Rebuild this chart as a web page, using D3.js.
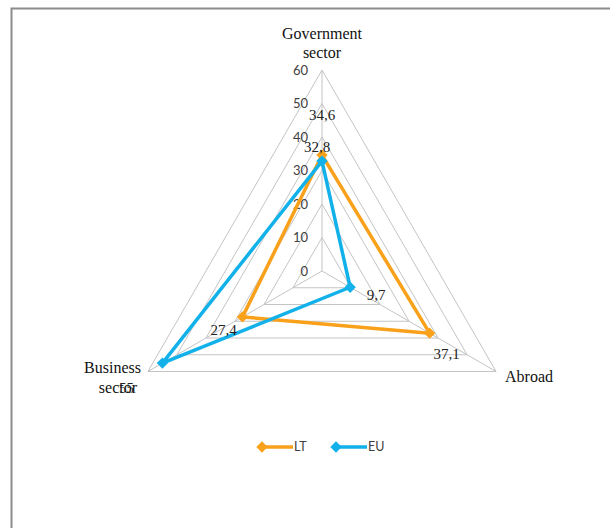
<!DOCTYPE html>
<html><head><meta charset="utf-8">
<script src="https://cdn.jsdelivr.net/npm/d3@7"></script>
<style>body{margin:0;background:#fff}svg{display:block}</style>
</head><body>
<svg id="c" width="610" height="528"></svg>
<script>
const categories = ["Government sector", "Abroad", "Business sector"];
const seriesNames = ["LT", "EU"];
const ltValues = [34.6, 37.1, 27.4];
const euValues = [32.8, 9.7, 55];
const ltLabels = ["34,6", "37,1", "27,4"];
const euLabels = ["32,8", "9,7", "55"];
const tickValues = [0, 10, 20, 30, 40, 50, 60];

const svg = d3.select("#c");
const cx = 322, cy = 271;
const r = d3.scaleLinear().domain([0, 60]).range([0, 201]);
const ang = i => (-90 + i * 120) * Math.PI / 180;
const pt = (i, v) => [cx + r(v) * Math.cos(ang(i)), cy + r(v) * Math.sin(ang(i))];

// border
svg.append("path").attr("d", "M11.5,528 V8.5 H610").attr("fill", "none")
  .attr("stroke", "#8c8c8c").attr("stroke-width", 2);

// grid triangles
const g = svg.append("g");
tickValues.slice(1).forEach(t => {
  g.append("path")
    .attr("d", d3.line()(categories.map((c, i) => pt(i, t))) + "Z")
    .attr("fill", "none").attr("stroke", "#c4c4c4").attr("stroke-width", 1);
});
categories.forEach((c, i) => {
  const p = pt(i, 60);
  g.append("line").attr("x1", cx).attr("y1", cy).attr("x2", p[0]).attr("y2", p[1])
    .attr("stroke", "#c4c4c4").attr("stroke-width", 1);
});

// tick labels
tickValues.forEach(t => {
  svg.append("text").attr("x", cx - 14).attr("y", cy - r(t)).attr("dy", "0.35em")
    .attr("text-anchor", "end").attr("font-family", "Lato, 'Open Sans', sans-serif")
    .attr("font-size", 13).attr("fill", "#404040").text(t);
});

// category labels
const serif = "'Liberation Serif', 'DejaVu Serif', serif";
const lab = svg.append("g").attr("font-family", serif).attr("font-size", 16).attr("fill", "#111");
lab.append("text").attr("x", cx).attr("y", 39).attr("text-anchor", "middle").text("Government");
lab.append("text").attr("x", cx).attr("y", 58).attr("text-anchor", "middle").text("sector");
lab.append("text").attr("x", 141).attr("y", 373).attr("text-anchor", "end").text("Business");
lab.append("text").attr("x", 137).attr("y", 393).attr("text-anchor", "end").text("sector");
lab.append("text").attr("x", 505).attr("y", 382).attr("text-anchor", "start").text("Abroad");

// series
const series = [
  {name: seriesNames[0], values: ltValues, labels: ltLabels, color: "#F9A11B",
   off: [[0, -40], [17, 21], [-19, 13]]},
  {name: seriesNames[1], values: euValues, labels: euLabels, color: "#12B1EA",
   off: [[-5, -14], [26, 8], [-36, 25]]}
];
series.forEach(s => {
  const pts = s.values.map((v, i) => pt(i, v));
  svg.append("path").attr("d", d3.line()(pts) + "Z").attr("fill", "none")
    .attr("stroke", s.color).attr("stroke-width", 3.5).attr("stroke-linejoin", "round");
  pts.forEach(p => {
    svg.append("rect").attr("x", p[0] - 4).attr("y", p[1] - 4).attr("width", 8).attr("height", 8)
      .attr("transform", `rotate(45 ${p[0]} ${p[1]})`).attr("fill", s.color);
  });
});
series.forEach(s => {
  s.values.forEach((v, i) => {
    const p = pt(i, v);
    svg.append("text").attr("x", p[0] + s.off[i][0]).attr("y", p[1] + s.off[i][1])
      .attr("dy", "0.35em").attr("text-anchor", "middle")
      .attr("font-family", serif).attr("font-size", 15).attr("fill", "#222")
      .text(s.labels[i]);
  });
});

// legend
const leg = svg.append("g");
series.forEach((s, k) => {
  const x0 = 259 + k * 74, y0 = 447;
  leg.append("line").attr("x1", x0).attr("y1", y0).attr("x2", x0 + 34).attr("y2", y0)
    .attr("stroke", s.color).attr("stroke-width", 3.5);
  leg.append("rect").attr("x", x0 + 3 - 4).attr("y", y0 - 4).attr("width", 8).attr("height", 8)
    .attr("transform", `rotate(45 ${x0 + 3} ${y0})`).attr("fill", s.color);
  leg.append("text").attr("x", x0 + 35).attr("y", y0).attr("dy", "0.35em")
    .attr("font-family", "Lato, 'Open Sans', sans-serif").attr("font-size", 12.5)
    .attr("fill", "#404040").text(s.name);
});
</script>
</body></html>
